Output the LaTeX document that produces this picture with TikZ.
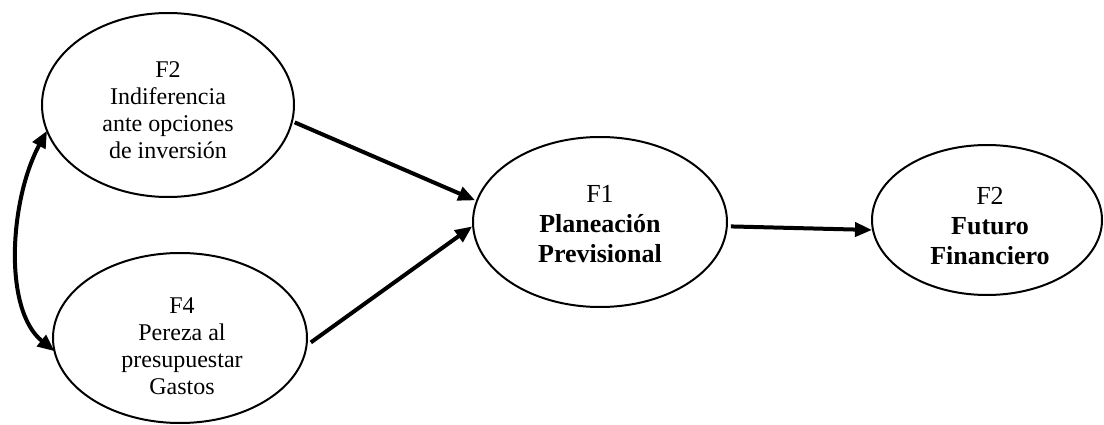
\documentclass[tikz,border=0pt]{standalone}
\usepackage{fontspec}
\setmainfont{Liberation Serif}
\usetikzlibrary{shapes.geometric,arrows.meta}
\begin{document}
\begin{tikzpicture}[x=1pt,y=-1pt,
  factor/.style={draw,ellipse,line width=2pt,inner sep=0pt,outer sep=0pt},
  lbl/.style={align=center,inner sep=0pt},
  small/.style={lbl,font=\fontsize{24}{27}\selectfont},
  big/.style={lbl,font=\fontsize{26}{30}\selectfont},
  path/.style={line width=4pt,-{Triangle[length=17pt,width=14pt]}},
  bidir/.style={line width=4pt,{Triangle[length=17pt,width=14pt]}-{Triangle[length=17pt,width=14pt]}}]
\useasboundingbox (0,0) rectangle (1104,425);
\node[factor,minimum width=252pt,minimum height=184pt] (e1) at (168,105) {};
\node[factor,minimum width=254pt,minimum height=170pt] (e2) at (180,338) {};
\node[factor,minimum width=254pt,minimum height=170pt] (e3) at (600,222) {};
\node[factor,minimum width=230pt,minimum height=150pt] (e4) at (987,220) {};
\node[small] (t1) at (168,110) {F2\\Indiferencia\\ante opciones\\de inversión};
\node[small] (t2) at (182,346) {F4\\Pereza al\\presupuestar\\Gastos};
\node[big] (t3) at (600,224) {F1\\\textbf{Planeación}\\\textbf{Previsional}};
\node[big] (t4) at (990,226) {F2\\\textbf{Futuro}\\\textbf{Financiero}};
\draw[path] ([shift={(3,0)}]e1.-8) -- ([shift={(-2,0)}]e3.170);
\draw[path] ([shift={(4,0)}]e2.-2) -- ([shift={(-1,0)}]e3.182);
\draw[path] ([shift={(4,0)}]e3.-2) -- ([shift={(-1,0)}]e4.185);
\draw[bidir] (e1.192) .. controls +(-37,68) and +(-52,-42) .. (e2.186);
\end{tikzpicture}
\end{document}
